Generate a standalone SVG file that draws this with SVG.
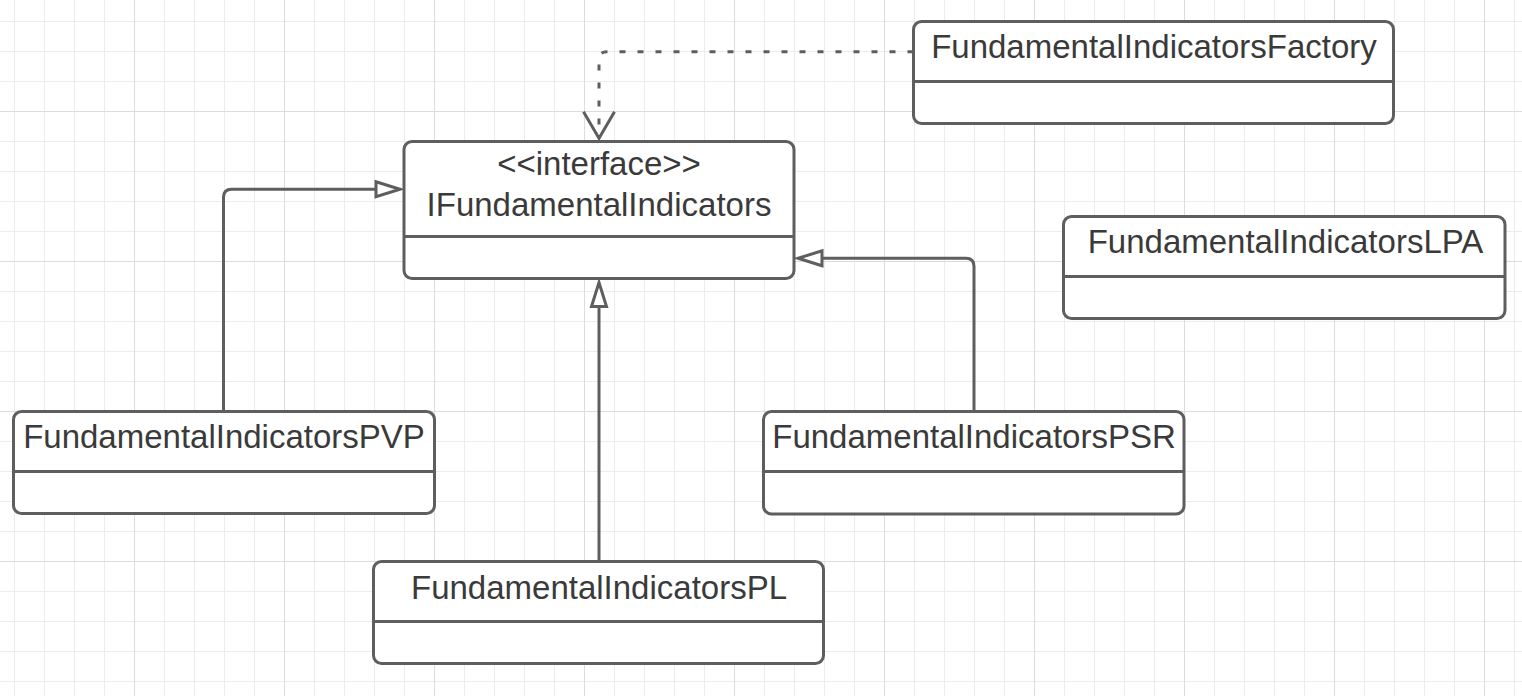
<svg xmlns="http://www.w3.org/2000/svg" width="1522" height="696" viewBox="0 0 1522 696">
<style>
.box{fill:#ffffff;stroke:#5e5e5e;stroke-width:3}
.div{stroke:#5e5e5e;stroke-width:3}
.lbl{font-family:"Liberation Sans",Arial,sans-serif;font-size:33px;fill:#3a3a3a;text-anchor:middle}
.edge{fill:none;stroke:#5e5e5e;stroke-width:3}
.dash{stroke-dasharray:6 12}
</style>
<defs>
<pattern id="gridMinor" patternUnits="userSpaceOnUse" x="14" y="21" width="30" height="30">
<rect x="0" y="0" width="1" height="30" fill="#ececec"/>
<rect x="0" y="0" width="30" height="1" fill="#ececec"/>
</pattern>
<pattern id="gridMajor" patternUnits="userSpaceOnUse" x="134" y="111" width="150" height="150">
<rect x="0" y="0" width="1" height="150" fill="#dcdcdc"/>
<rect x="0" y="0" width="150" height="1" fill="#dcdcdc"/>
</pattern>
<marker id="tri" markerUnits="userSpaceOnUse" markerWidth="30" markerHeight="20" refX="0" refY="8" orient="auto" overflow="visible">
<path d="M0,0.5 L24,8 L0,15.5 Z" fill="#ffffff" stroke="#5e5e5e" stroke-width="3" stroke-linejoin="miter"/>
</marker>
<marker id="vee" markerUnits="userSpaceOnUse" markerWidth="30" markerHeight="34" refX="26.5" refY="15.5" orient="auto" overflow="visible">
<path d="M0,0 L26.5,15.5 L0,31" fill="none" stroke="#5e5e5e" stroke-width="3" stroke-dasharray="none"/>
</marker>
</defs>
<rect x="0" y="0" width="1522" height="696" fill="#ffffff"/>
<rect x="0" y="0" width="1522" height="696" fill="url(#gridMinor)"/>
<rect x="0" y="0" width="1522" height="696" fill="url(#gridMajor)"/>

<g id="connectors">
<path class="edge dash" d="M913.5,51.7 H607 Q599,51.7 599,59.7 V138.3" marker-end="url(#vee)"/>
<path class="edge" d="M223.5,411.5 V197.3 Q223.5,189.3 231.5,189.3 H376" marker-end="url(#tri)"/>
<path class="edge" d="M599,561.5 V306.5" marker-end="url(#tri)"/>
<path class="edge" d="M974,411.5 V266.3 Q974,258.3 966,258.3 H822" marker-end="url(#tri)"/>
</g>

<g id="factory">
<rect class="box" x="913.5" y="21.5" width="480" height="102" rx="8"/>
<line class="div" x1="913.5" y1="81.5" x2="1393.5" y2="81.5"/>
<text class="lbl" x="1154" y="58.3">FundamentalIndicatorsFactory</text>
</g>

<g id="interface">
<rect class="box" x="404" y="141.5" width="390" height="137" rx="8"/>
<line class="div" x1="404" y1="236.5" x2="794" y2="236.5"/>
<text class="lbl" x="599" y="175">&lt;&lt;interface&gt;&gt;</text>
<text class="lbl" x="599" y="216">IFundamentalIndicators</text>
</g>

<g id="lpa">
<rect class="box" x="1063.5" y="216.5" width="441.5" height="102" rx="8"/>
<line class="div" x1="1063.5" y1="276.5" x2="1505" y2="276.5"/>
<text class="lbl" x="1285.5" y="253.3">FundamentalIndicatorsLPA</text>
</g>

<g id="pvp">
<rect class="box" x="13.5" y="411.5" width="421" height="102" rx="8"/>
<line class="div" x1="13.5" y1="471.5" x2="434.5" y2="471.5"/>
<text class="lbl" x="224" y="448.3">FundamentalIndicatorsPVP</text>
</g>

<g id="psr">
<rect class="box" x="763.5" y="411.5" width="420.5" height="102.5" rx="8"/>
<line class="div" x1="763.5" y1="471.5" x2="1184" y2="471.5"/>
<text class="lbl" x="974" y="448.3">FundamentalIndicatorsPSR</text>
</g>

<g id="pl">
<rect class="box" x="373.5" y="561.5" width="450" height="102" rx="8"/>
<line class="div" x1="373.5" y1="621.5" x2="823.5" y2="621.5"/>
<text class="lbl" x="599" y="599">FundamentalIndicatorsPL</text>
</g>
</svg>
